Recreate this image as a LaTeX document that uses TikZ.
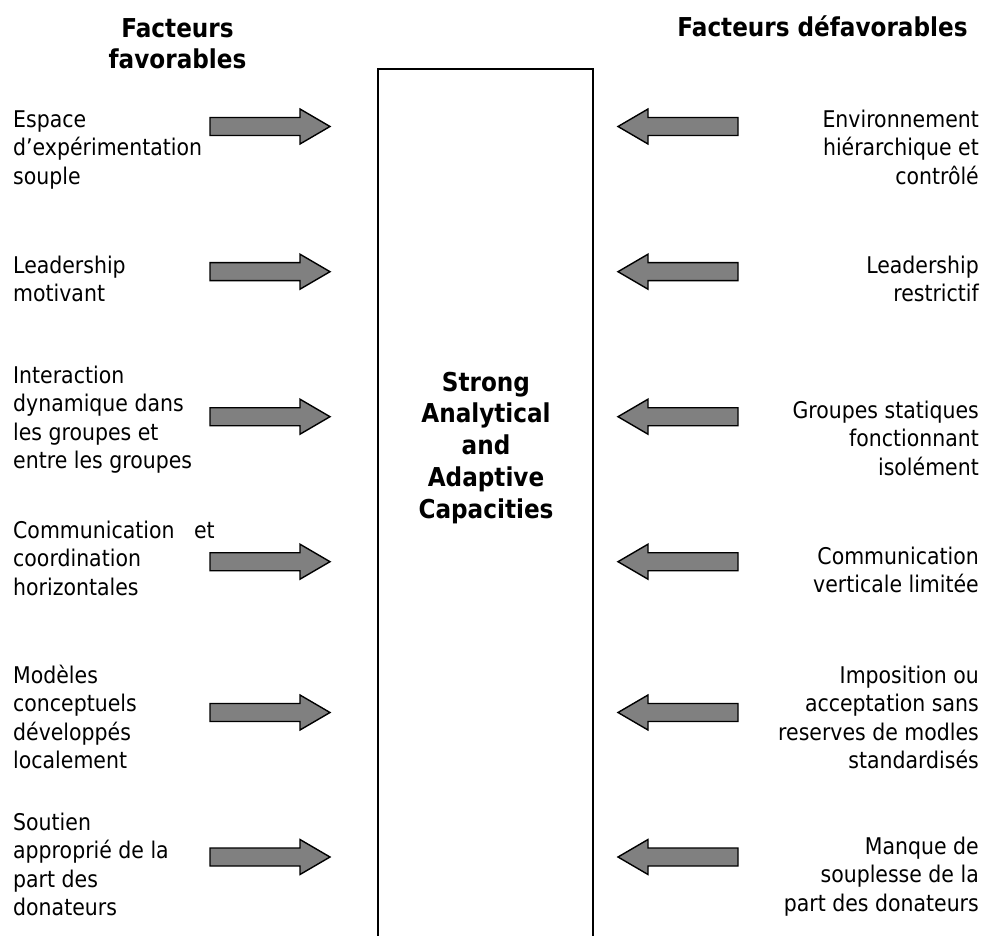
\documentclass[tikz,border=0pt]{standalone}
\usepackage{fontspec}
\setmainfont{DejaVu Sans}[FakeStretch=0.89]
\definecolor{arrowgray}{RGB}{128,128,128}
\tikzset{
  arrowbody/.style={draw=black, line width=1.4pt, fill=arrowgray, line join=miter},
  toright/.pic={\path[arrowbody] (0,-9) -- (90,-9) -- (90,-17.5) -- (120,0) -- (90,17.5) -- (90,9) -- (0,9) -- cycle;},
  toleft/.pic={\path[arrowbody] (0,-9) -- (-90,-9) -- (-90,-17.5) -- (-120,0) -- (-90,17.5) -- (-90,9) -- (0,9) -- cycle;},
  favtext/.style={anchor=north west, inner sep=0pt, align=left, font=\fontsize{23}{28.5}\selectfont},
  deftext/.style={anchor=north east, inner sep=0pt, align=right, font=\fontsize{23}{28.5}\selectfont},
  headtext/.style={anchor=north, inner sep=0pt, align=center, font=\fontsize{26}{31.5}\selectfont\bfseries},
}
\begin{document}
\begin{tikzpicture}[x=1pt, y=-1pt]
\useasboundingbox (0,0) rectangle (986,936);

% column headings
\node[headtext] (favhead) at (177.5,15) {\strut Facteurs\\favorables};
\node[headtext] (defhead) at (822.5,14) {\strut Facteurs défavorables};

% central frame, open at the bottom
\draw[line width=1.5pt] (378,945) -- (378,69) -- (593,69) -- (593,945);
\node[anchor=north, inner sep=0pt, align=center, font=\fontsize{26}{31.75}\selectfont\bfseries]
  (core) at (486,368.8) {\strut Strong\\Analytical\\and\\Adaptive\\Capacities};

% favourable factors
\node[favtext] (f1) at (13,107) {\strut Espace\\d’expérimentation\\souple};
\node[favtext] (f2) at (13,253) {\strut Leadership\\motivant};
\node[favtext] (f3) at (13,363) {\strut Interaction\\dynamique dans\\les groupes et\\entre les groupes};
\node[favtext] (f4) at (13,518) {\strut Communication\ \ \ et\\coordination\\horizontales};
\node[favtext] (f5) at (13,663) {\strut Modèles\\conceptuels\\développés\\localement};
\node[favtext] (f6) at (13,810) {\strut Soutien\\approprié de la\\part des\\donateurs};

% unfavourable factors
\node[deftext] (d1) at (979,107) {\strut Environnement\\hiérarchique et\\contrôlé};
\node[deftext] (d2) at (979,253) {\strut Leadership\\restrictif};
\node[deftext] (d3) at (979,398) {\strut Groupes statiques\\fonctionnant\\isolément};
\node[deftext] (d4) at (979,544) {\strut Communication\\verticale limitée};
\node[deftext] (d5) at (979,663) {\strut Imposition ou\\acceptation sans\\reserves de modles\\standardisés};
\node[deftext] (d6) at (979,834) {\strut Manque de\\souplesse de la\\part des donateurs};

% block arrows pointing at the frame
\foreach \y in {126.5,271.7,416.7,561.7,712.5,857} {
  \pic at (210,\y) {toright};
  \pic at (738,\y) {toleft};
}
\end{tikzpicture}
\end{document}
